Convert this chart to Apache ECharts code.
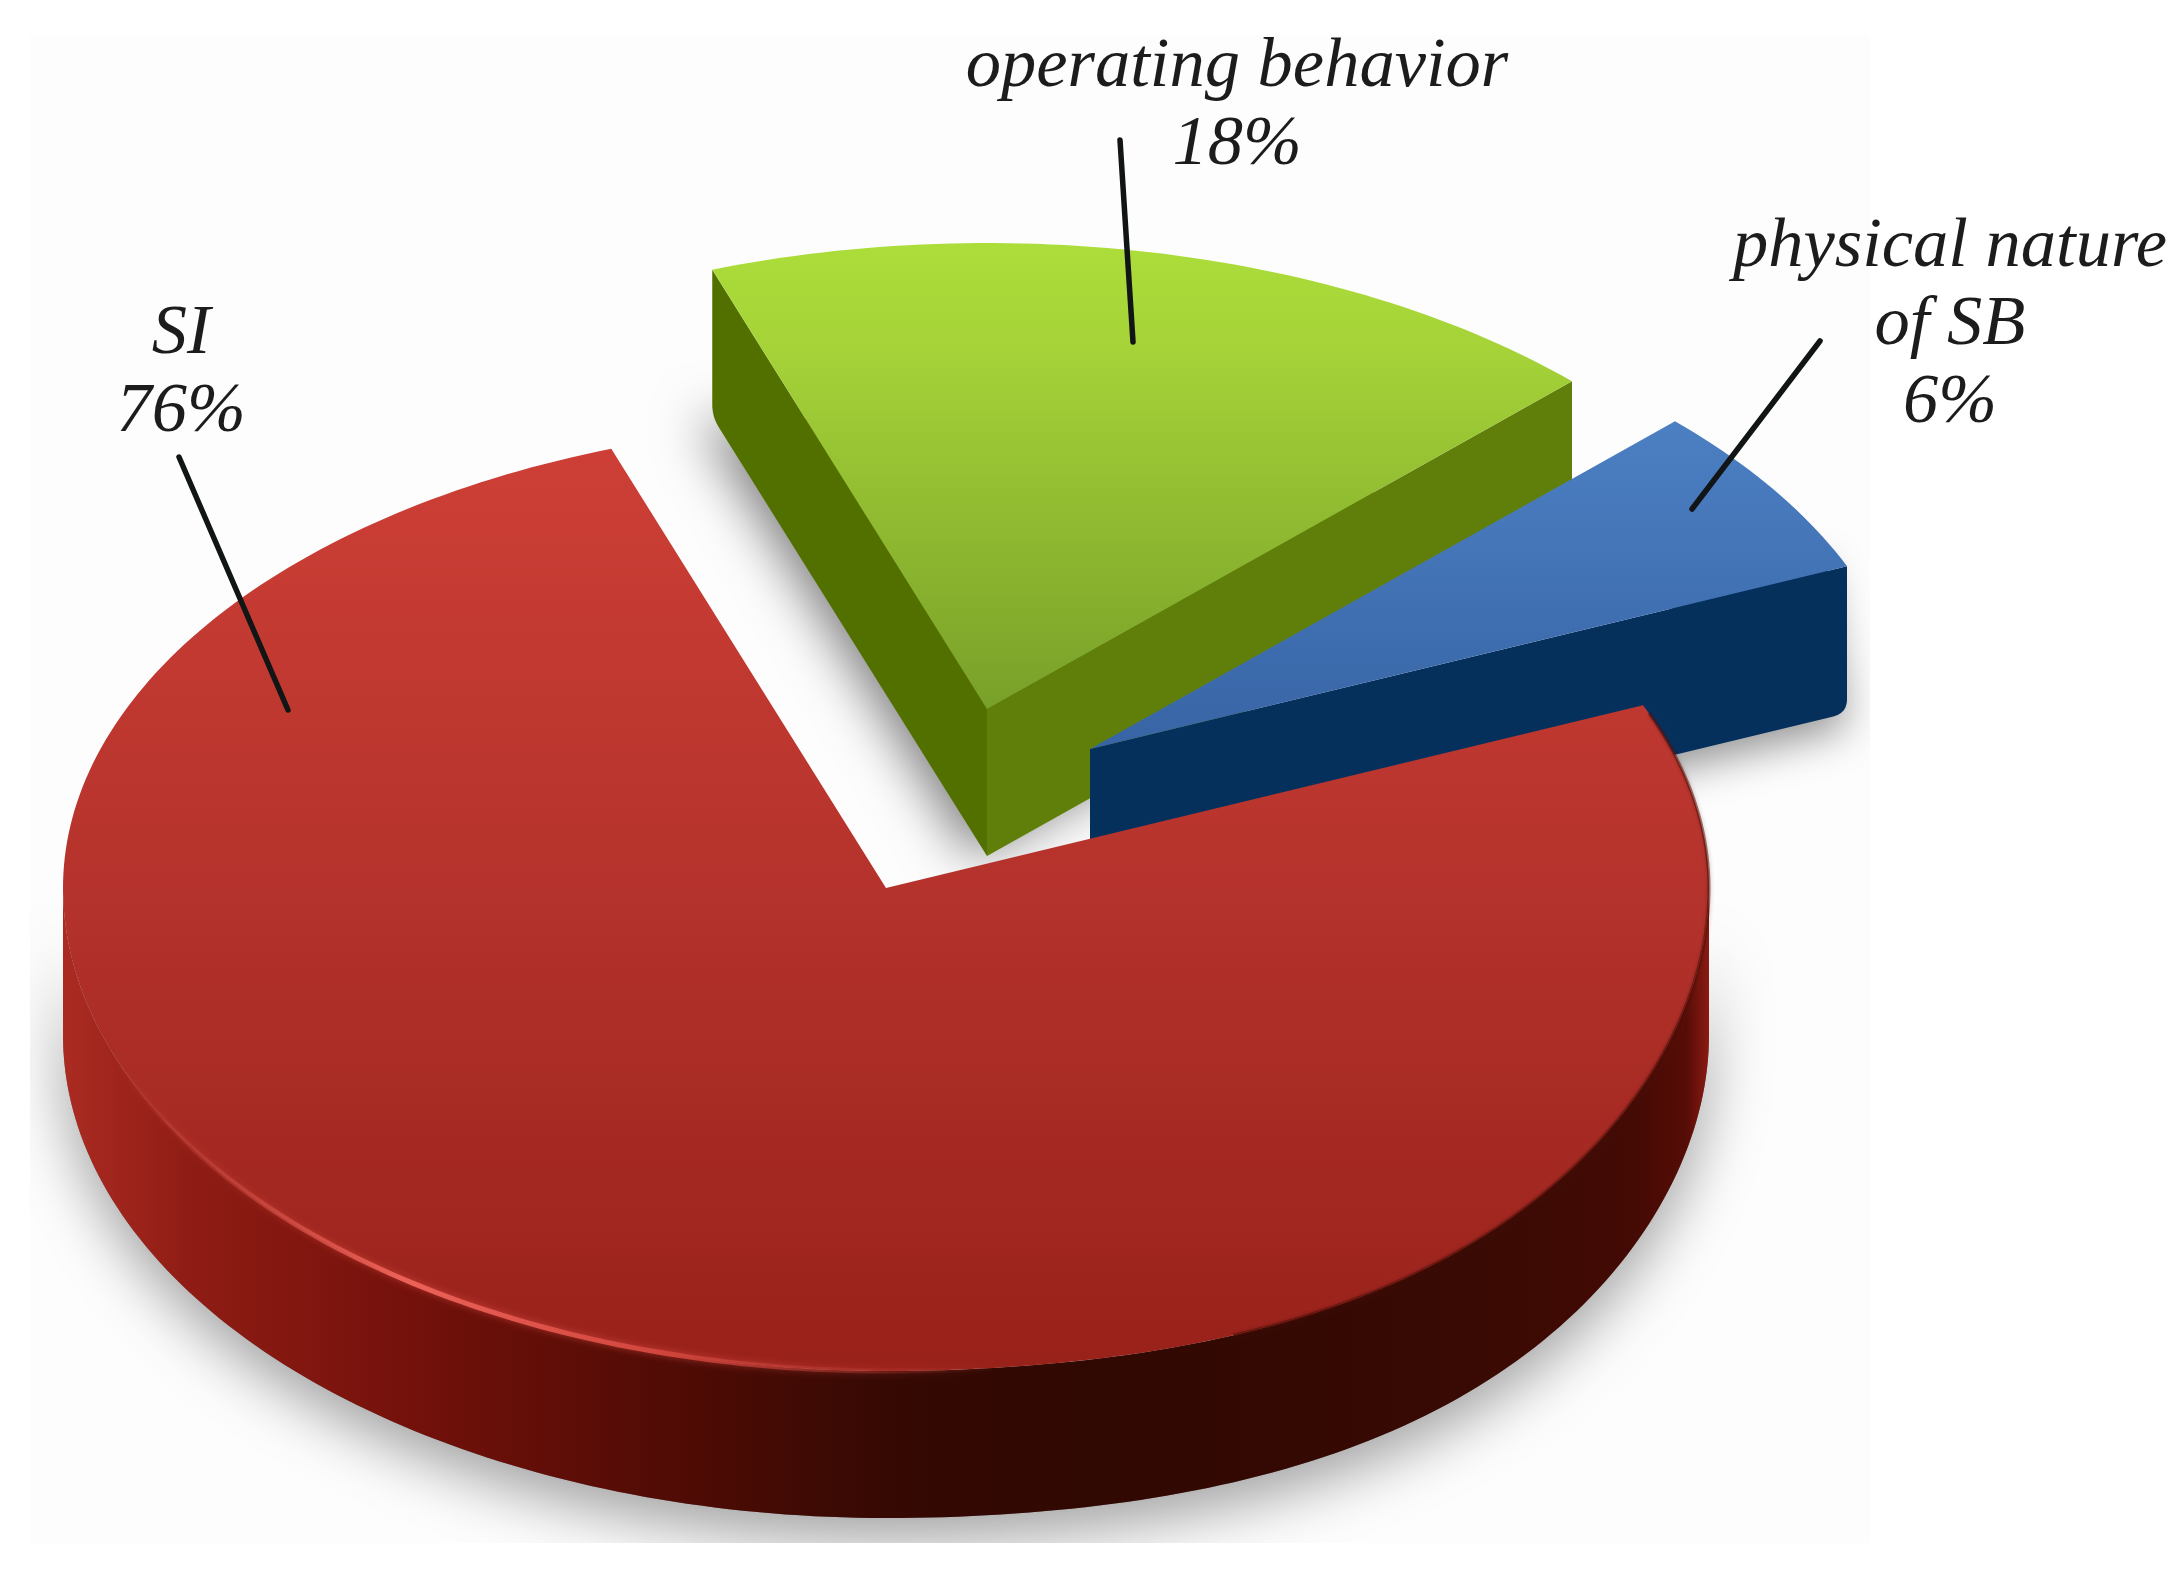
<!DOCTYPE html>
<html>
<head>
<meta charset="utf-8">
<style>html,body{margin:0;padding:0;background:#fff}#c{width:2182px;height:1575px}</style>
<script src="https://cdn.jsdelivr.net/npm/echarts@6/dist/echarts.min.js"></script>
</head>
<body>
<div id="c"></div>
<script>
// ---- data ----
const categories = ['SI', 'physical nature\nof SB', 'operating behavior'];
const shares = [76, 6, 18];

// ---- layout (pixel space of the hidden axes) ----
const CENTER = [886, 888];
const RX = 823, RY_BACK = 466, RY_FRONT = 483, DEPTH = 147;
const SHOULDER = 16, SHOULDER_SPAN = 90;
const START_DEG = 109.5;
const EXPLODE = [[0, 0], [204, -139], [101, -179]];
const LABEL_POS = [[181, 295], [1950, 208], [1237, 28]];
const LEADERS = [
  [[179, 457], [288, 710]],
  [[1820, 341], [1692, 509]],
  [[1120, 140], [1133, 342]]
];
const SHADOW_CLIP = { x: 30, y: 35, width: 1840, height: 1508 };

// ---- styles ----
const linear = (x, y, x2, y2, stops) => ({
  type: 'linear', x, y, x2, y2, global: true,
  colorStops: stops.map(s => ({ offset: s[0], color: s[1] }))
});
const TOP_FILL = [
  linear(0, 450, 0, 1370, [[0, '#cd3f36'], [0.5, '#b3322b'], [1, '#98211a']]),
  linear(0, 419, 0, 749, [[0, '#4c80c3'], [1, '#3764a5']]),
  linear(0, 245, 0, 708, [[0, '#acdd3a'], [0.22, '#a5d338'], [1, '#79a029']])
];
const RED_WALL = linear(63, 0, 1711, 0, [
  [0, '#ab2b22'], [0.08, '#8e1c14'], [0.21, '#74110b'], [0.35, '#540c05'],
  [0.5, '#360903'], [0.62, '#300802'], [0.85, '#380a03'], [0.95, '#430a04'], [0.985, '#560c06'], [1, '#8f1c14']
]);
const RADIAL_WALL = [null, ['#05305c'], ['#527000', '#607f0a']];
const LEADER_COLOR = '#111516', TEXT_COLOR = '#1c1c1c';
const LABEL_FONT = 'italic 70.5px "Liberation Serif"';

// ---- geometry helpers ----
const rad = d => d * Math.PI / 180;
function rim(c, deg, dy) {
  const s = Math.sin(rad(deg));
  const below = 360 - (((deg % 360) + 360) % 360);
  const bump = (s < 0 && below < SHOULDER_SPAN) ? SHOULDER * Math.pow(Math.sin(Math.PI * below / SHOULDER_SPAN), 2) : 0;
  return [c[0] + RX * Math.cos(rad(deg)), c[1] - (s > 0 ? RY_BACK : RY_FRONT) * s + bump + (dy || 0)];
}
function arc(c, a0, a1, dy) {
  const n = Math.max(2, Math.ceil(Math.abs(a1 - a0)));
  const out = [];
  for (let i = 0; i <= n; i++) out.push(rim(c, a0 + (a1 - a0) * i / n, dy));
  return out;
}
function rounded(prev, corner, next, r) {
  const u = (a, b) => { const l = Math.hypot(b[0] - a[0], b[1] - a[1]); return [(b[0] - a[0]) / l, (b[1] - a[1]) / l]; };
  const d0 = u(corner, prev), d1 = u(corner, next), out = [];
  const p0 = [corner[0] + d0[0] * r, corner[1] + d0[1] * r], p1 = [corner[0] + d1[0] * r, corner[1] + d1[1] * r];
  for (let i = 0; i <= 6; i++) {
    const t = i / 6, m = 1 - t;
    out.push([m * m * p0[0] + 2 * m * t * corner[0] + t * t * p1[0], m * m * p0[1] + 2 * m * t * corner[1] + t * t * p1[1]]);
  }
  return out;
}
const total = shares.reduce((a, b) => a + b, 0);
const startOf = i => START_DEG + shares.slice(0, i).reduce((a, b) => a + b, 0) / total * 360;

function renderSlice(params, api) {
  const i = params.dataIndex, value = api.value(0);
  const a0 = startOf(i), a1 = a0 + value / total * 360;
  const c = [CENTER[0] + EXPLODE[i][0], CENTER[1] + EXPLODE[i][1]];
  const P = pts => pts.map(p => api.coord(p));
  const kids = [];
  const poly = (points, style, z2, extra) => kids.push(Object.assign(
    { type: 'polygon', shape: { points: P(points) }, style, z2, silent: true }, extra || {}));
  const clip = { clipPath: { type: 'rect', shape: SHADOW_CLIP } };
  const z = [30, 20, 10][i];

  if (i === 0) {
    // drop shadow, outer wall, top face, rim light and rim shade
    const front = arc(c, 180, 360), back = arc(c, 360, 180, DEPTH);
    poly(front.concat(back), { fill: '#777', shadowBlur: 60, shadowColor: 'rgba(0,0,0,0.36)', shadowOffsetY: 22 }, 1, clip);
    poly(front.concat(back), { fill: RED_WALL }, z);
    poly([c].concat(arc(c, a0, a1)), { fill: TOP_FILL[i] }, z + 1);
    kids.push({
      type: 'polyline', shape: { points: P(arc(c, 190, 287)) }, z2: z + 2, silent: true,
      style: {
        fill: null, lineWidth: 5, shadowBlur: 7, shadowColor: 'rgba(225,80,70,0.6)',
        stroke: linear(110, 0, 1000, 0, [[0, 'rgba(205,70,60,0)'], [0.33, '#ec6258'], [0.62, '#d0453c'], [1, 'rgba(170,50,45,0)']])
      }
    });
    kids.push({
      type: 'polyline', shape: { points: P(arc(c, 295, 382)) }, z2: z + 2, silent: true,
      style: { fill: null, lineWidth: 3, stroke: 'rgba(80,12,6,0.55)', shadowBlur: 4, shadowColor: 'rgba(80,12,6,0.5)' }
    });
  } else {
    // radial walls visible to the viewer
    const c2 = [c[0], c[1] + DEPTH];
    const near = rim(c, a0), nearB = rim(c, a0, DEPTH), far = rim(c, a1), farB = rim(c, a1, DEPTH);
    if (i === 1) {
      const wall = [c, near].concat(rounded(near, nearB, c2, 14), [c2]);
      const up = p => [p[0], p[1] - 12];
      poly([up(c2), up(nearB), rim(c, a0 + 4)], { fill: '#05305c', shadowBlur: 42, shadowColor: 'rgba(0,0,0,0.42)', shadowOffsetY: 26 }, 1, clip);
      poly(wall, { fill: RADIAL_WALL[i][0] }, z);
    } else {
      const up = p => [p[0], p[1] - 10];
      poly([up(farB), up(c2), up(nearB)], { fill: '#527000', shadowBlur: 52, shadowColor: 'rgba(0,0,0,0.5)', shadowOffsetY: 12, shadowOffsetX: -14 }, 1, clip);
      poly([c, far].concat(rounded(far, farB, c2, 12), [c2]), { fill: RADIAL_WALL[i][0] }, z);
      poly([c, near, nearB, c2], { fill: RADIAL_WALL[i][1] }, z);
    }
    poly([c].concat(arc(c, a0, a1)), { fill: TOP_FILL[i] }, z + 1);
  }

  // leader and label
  kids.push({
    type: 'line', silent: true, z2: 50,
    shape: { x1: api.coord(LEADERS[i][0])[0], y1: api.coord(LEADERS[i][0])[1], x2: api.coord(LEADERS[i][1])[0], y2: api.coord(LEADERS[i][1])[1] },
    style: { stroke: LEADER_COLOR, lineWidth: 5.5, lineCap: 'round' }
  });
  const lp = api.coord(LABEL_POS[i]);
  kids.push({
    type: 'text', silent: true, z2: 50, x: lp[0], y: lp[1],
    style: { text: categories[i] + '\n' + value + '%', x: 0, y: 0, font: LABEL_FONT, fill: TEXT_COLOR, align: 'center', verticalAlign: 'top', lineHeight: 78 }
  });
  return { type: 'group', children: kids };
}

const chart = echarts.init(document.getElementById('c'), null, { renderer: 'canvas', width: 2182, height: 1575 });
chart.setOption({
  animation: false,
  backgroundColor: '#ffffff',
  graphic: [{ type: 'rect', z: -1, silent: true, shape: { x: 30, y: 35, width: 1840, height: 1508 }, style: { fill: '#fdfdfd' } }],
  grid: { left: 0, right: 0, top: 0, bottom: 0 },
  xAxis: { type: 'value', min: 0, max: 2182, show: false },
  yAxis: { type: 'value', min: 0, max: 1575, inverse: true, show: false },
  series: [{
    type: 'custom', coordinateSystem: 'cartesian2d', clip: false,
    name: 'share', renderItem: renderSlice,
    encode: { x: 0, y: 0 },
    data: shares.map((v, i) => ({ name: categories[i], value: [v] }))
  }]
});
</script>
</body>
</html>
